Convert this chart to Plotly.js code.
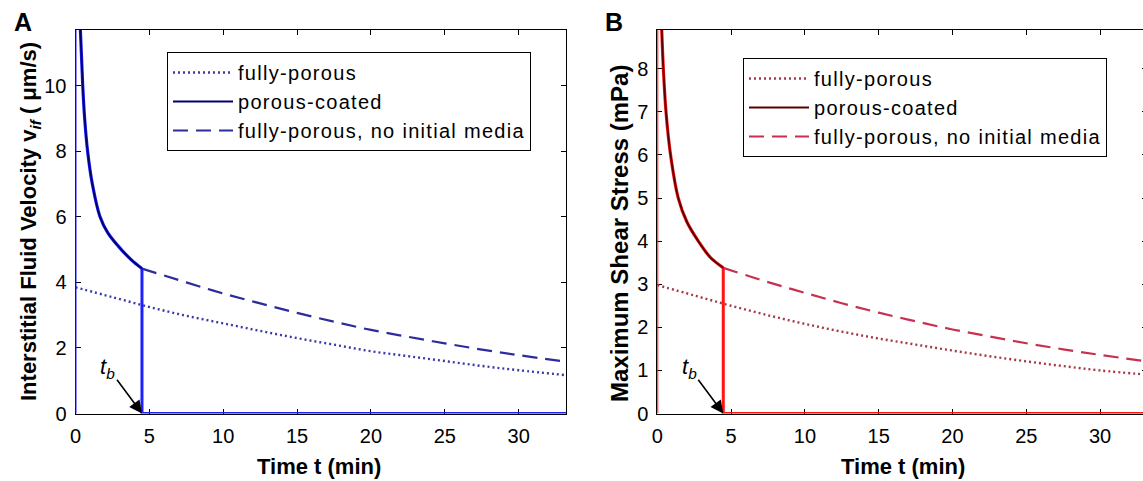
<!DOCTYPE html>
<html>
<head>
<meta charset="utf-8">
<script src="https://cdn.plot.ly/plotly-3.0.1.min.js"></script>
<style>
html,body{margin:0;padding:0;overflow:hidden;background:#fff;}
#chart{width:1152px;height:481px;}
text.legendtext, .infolayer g[class*="legend"] text{letter-spacing:1.3px;}
</style>
</head>
<body>
<div id="chart"></div>
<script>
// ---------- Data ----------
const seriesNames = ["fully-porous", "porous-coated", "fully-porous, no initial media"];
const xTicks = [0, 5, 10, 15, 20, 25, 30];
const yTicksA = [0, 2, 4, 6, 8, 10];
const yTicksB = [0, 1, 2, 3, 4, 5, 6, 7, 8];

// Panel A: interstitial fluid velocity (µm/s)
const tA_fully = [0, 2.5, 5, 7.5, 10, 12.5, 15, 17.5, 20, 22.5, 25, 27.5, 30, 33.2];
const vA_fully = [3.85, 3.55, 3.25, 2.98, 2.75, 2.52, 2.3, 2.1, 1.9, 1.75, 1.6, 1.45, 1.32, 1.17];
const tA_coated = [0, 0, 0.33, 0.49, 0.62, 0.82, 1.14, 1.66, 2.2, 3.1, 3.8, 4.5, 4.5, 33.2];
const vA_coated = [0, 11.7, 11.7, 10, 9, 8, 7, 6, 5.5, 5, 4.68, 4.42, 0, 0];
const tA_noMedia = [4.5, 7.5, 10, 12.5, 15, 17.5, 20, 22.5, 25, 27.5, 30, 33.2];
const vA_noMedia = [4.42, 4.0, 3.66, 3.36, 3.07, 2.8, 2.55, 2.34, 2.14, 1.95, 1.78, 1.58];

// Panel B: maximum shear stress (mPa)
const tB_fully = [0, 2.5, 5, 7.5, 10, 12.5, 15, 17.5, 20, 22.5, 25, 27.5, 30, 33.2];
const vB_fully = [2.98, 2.74, 2.5, 2.28, 2.08, 1.9, 1.74, 1.6, 1.46, 1.33, 1.21, 1.1, 1.0, 0.9];
const tB_coated = [0, 0, 0.3, 0.41, 0.59, 0.9, 1.42, 2.0, 2.78, 3.6, 4.47, 4.47, 33.2];
const vB_coated = [0, 8.9, 8.9, 8, 7, 6, 5, 4.45, 4.0, 3.62, 3.38, 0, 0];
const tB_noMedia = [4.47, 7.5, 10, 12.5, 15, 17.5, 20, 22.5, 25, 27.5, 30, 33.2];
const vB_noMedia = [3.38, 3.05, 2.8, 2.56, 2.34, 2.14, 1.95, 1.79, 1.63, 1.49, 1.36, 1.21];

const tbA = 4.5, tbB = 4.47;

// ---------- Helpers ----------
const FONT = "Liberation Sans, Arial, Helvetica, sans-serif";
const W = 1152, H = 481;
const px = x => x / W;
const py = y => 1 - y / H;

function kneeIndex(v) {
  let k = v.length - 1;
  while (k > 0 && v[k] === 0) k--;
  return k;
}

function panelTraces(xa, ya, legend, tF, vF, tC, vC, tN, vN, col) {
  const k = kneeIndex(vC);
  const rise = {x: tC.slice(0, 2), y: vC.slice(0, 2)};
  const dec = {x: tC.slice(2, k + 1), y: vC.slice(2, k + 1)};
  const drop = {x: tC.slice(k), y: vC.slice(k)};
  const common = {xaxis: xa, yaxis: ya, legend: legend, mode: "lines"};
  return [
    Object.assign({x: tF, y: vF, name: seriesNames[0], legendrank: 1,
      line: {color: col.dot, width: 2.4, dash: "2px,3px", shape: "spline"}}, common),
    Object.assign({x: tN, y: vN, name: seriesNames[2], legendrank: 3,
      line: {color: col.dash, width: 2.2, dash: "15px,8px", shape: "spline"}}, common),
    Object.assign({x: rise.x, y: rise.y, showlegend: false, cliponaxis: false,
      line: {color: col.bright, width: 2}}, common),
    Object.assign({x: drop.x, y: drop.y, showlegend: false, cliponaxis: false,
      line: {color: col.bright, width: 3}}, common),
    Object.assign({x: dec.x, y: dec.y, showlegend: false,
      line: {color: col.bright, width: 3.2, shape: "spline", smoothing: 0.8}}, common),
    Object.assign({x: dec.x, y: dec.y, name: seriesNames[1], legendrank: 2,
      line: {color: col.dark, width: 1.8, shape: "spline", smoothing: 0.8}}, common)
  ];
}

const colA = {dot: "#3a3aa8", dash: "#2c2c9c", bright: "#1e1eff", dark: "#00006e"};
const colB = {dot: "#a83848", dash: "#c83050", bright: "#ff1414", dark: "#5a0000"};

const data = [
  ...panelTraces("x", "y", "legend", tA_fully, vA_fully, tA_coated, vA_coated, tA_noMedia, vA_noMedia, colA),
  ...panelTraces("x2", "y2", "legend2", tB_fully, vB_fully, tB_coated, vB_coated, tB_noMedia, vB_noMedia, colB)
];

function xAxis(domain, anchor) {
  return {domain: domain, anchor: anchor, range: [0, 33.2], tickvals: xTicks,
    ticks: "inside", ticklen: 5, tickcolor: "#000", showline: true, linecolor: "#000", linewidth: 1,
    mirror: "ticks", showgrid: false, zeroline: false, layer: "below traces", ticklabelstandoff: 4,
    tickfont: {family: FONT, size: 20, color: "#000"}};
}
function yAxis(domain, anchor, range, ticks) {
  return {domain: domain, anchor: anchor, range: range, tickvals: ticks,
    ticks: "inside", ticklen: 5, tickcolor: "#000", showline: true, linecolor: "#000", linewidth: 1,
    mirror: "ticks", showgrid: false, zeroline: false, layer: "below traces", ticklabelstandoff: 4,
    tickfont: {family: FONT, size: 20, color: "#000"}};
}

const yDom = [py(413.5), py(30)];
const legendStyle = {font: {family: FONT, size: 20, color: "#000"}, bgcolor: "#fff",
  bordercolor: "#000", borderwidth: 1, xanchor: "left", yanchor: "top", itemwidth: 60,
  tracegroupgap: 0, traceorder: "normal"};

const titleFont = {family: FONT, size: 22, color: "#000"};
const C = {xanchor: "center", yanchor: "middle", showarrow: false, xref: "paper", yref: "paper"};
const arrowStyle = {showarrow: true, arrowhead: 2, arrowsize: 1.6, arrowwidth: 1.6, arrowcolor: "#000",
  ax: -34, ay: -46, standoff: 0, font: {family: FONT, size: 22, color: "#000"}};
const annotations = [
  Object.assign({x: px(22.5), y: py(21.5), text: "<b>A</b>", font: {family: FONT, size: 25, color: "#000"}}, C),
  Object.assign({x: px(614), y: py(21.5), text: "<b>B</b>", font: {family: FONT, size: 25, color: "#000"}}, C),
  Object.assign({x: px(318.5), y: py(466), text: "<b>Time t (min)</b>", font: titleFont}, C),
  Object.assign({x: px(903), y: py(466), text: "<b>Time t (min)</b>", font: titleFont}, C),
  Object.assign({x: px(30), y: py(222), textangle: -90, font: titleFont,
   text: "<b>Interstitial Fluid Velocity v<sub><i>if</i></sub> ( μm/s)</b>"}, C),
  Object.assign({x: px(619), y: py(234), textangle: -90, font: {family: FONT, size: 24, color: "#000"},
   text: "<b>Maximum Shear Stress (mPa)</b>"}, C),
  Object.assign({xref: "x", yref: "y", x: tbA, y: 0, text: "<i>t<sub>b</sub></i>"}, arrowStyle),
  Object.assign({xref: "x2", yref: "y2", x: tbB, y: 0, text: "<i>t<sub>b</sub></i>"}, arrowStyle)
];

const layout = {
  width: W, height: H, margin: {l: 0, r: 0, t: 0, b: 0},
  paper_bgcolor: "#fff", plot_bgcolor: "#fff",
  font: {family: FONT, color: "#000"},
  showlegend: true,
  xaxis: xAxis([px(75.5), px(566)], "y"),
  yaxis: yAxis(yDom, "x", [0, 11.7], yTicksA),
  xaxis2: xAxis([px(657.3), px(1147.3)], "y2"),
  yaxis2: yAxis(yDom, "x2", [0, 8.9], yTicksB),
  legend: Object.assign({x: px(167), y: py(52)}, legendStyle),
  legend2: Object.assign({x: px(743), y: py(58)}, legendStyle),
  annotations: annotations
};

Plotly.newPlot("chart", data, layout, {displayModeBar: false, staticPlot: true});
</script>
</body>
</html>
